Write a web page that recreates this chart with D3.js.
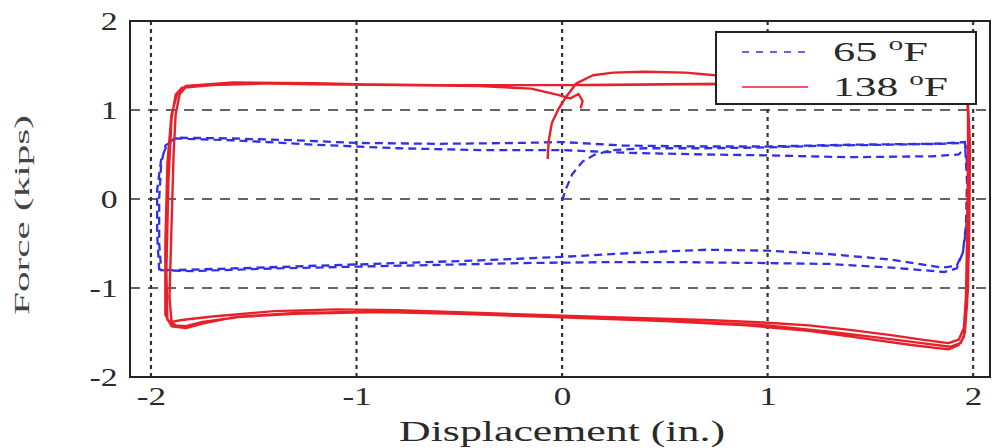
<!DOCTYPE html>
<html><head><meta charset="utf-8">
<script src="https://cdn.jsdelivr.net/npm/d3@7"></script>
<style>
body{margin:0;background:#fff}
text{font-family:"Liberation Serif","Times New Roman",serif;fill:#2a2a2a}
</style>
</head><body>
<svg id="c" width="992" height="448"></svg>
<script>
// ---- data ----
const xTicks = [-2, -1, 0, 1, 2];
const yTicks = [-2, -1, 0, 1, 2];
const xGrid = [-2, -1, 0, 1, 2];
const yGrid = [-1, 0, 1];
const xDomain = [-2.102, 2.082];
const yDomain = [-2, 2];
const xTitle = "Displacement (in.)";
const yTitle = "Force (kips)";
const seriesNames = ["65", "138"];

// 65 °F test (blue dashed): [displacement, force]
const blue65 = [
[0,-0.02],[0.02,0.12],[0.05,0.28],[0.1,0.42],[0.16,0.5],[0.25,0.55],[0.4,0.57],[0.7,0.57],[1.0,0.58],[1.3,0.6],[1.6,0.61],[1.85,0.62],[1.96,0.63],
[1.975,0.3],[1.975,-0.1],[1.965,-0.35],[1.95,-0.6],[1.92,-0.75],[1.85,-0.77],[1.6,-0.68],[1.3,-0.62],[1.0,-0.58],[0.7,-0.57],[0.4,-0.6],[0,-0.65],[-0.4,-0.69],[-0.8,-0.72],[-1.2,-0.75],[-1.6,-0.78],[-1.9,-0.8],[-1.96,-0.79],
[-1.97,-0.4],[-1.97,0.1],[-1.95,0.45],[-1.92,0.62],[-1.88,0.69],[-1.6,0.68],[-1.3,0.66],[-1.0,0.63],[-0.6,0.62],[-0.2,0.63],[0,0.64],[0.3,0.6],[0.7,0.59],[1.0,0.59],[1.4,0.61],[1.8,0.62],[1.96,0.64],
[1.97,0.2],[1.965,-0.3],[1.95,-0.6],[1.92,-0.78],[1.86,-0.82],[1.6,-0.77],[1.3,-0.73],[1.0,-0.72],[0.6,-0.71],[0.2,-0.71],[-0.2,-0.72],[-0.6,-0.74],[-1.0,-0.76],[-1.4,-0.78],[-1.8,-0.81],[-1.95,-0.8],
[-1.96,-0.5],[-1.96,0.0],[-1.95,0.4],[-1.93,0.6],[-1.88,0.68],[-1.6,0.66],[-1.2,0.61],[-0.8,0.57],[-0.4,0.55],[0,0.55],[0.3,0.52],[0.7,0.5],[1.0,0.49],[1.4,0.47],[1.8,0.48],[1.93,0.5],[1.97,0.6]
];

// 138 °F test (red solid): [displacement, force]
const red138 = [
[-0.07,0.45],[-0.065,0.65],[-0.05,0.85],[-0.02,1.0],[0.02,1.15],[0.07,1.3],[0.15,1.39],[0.25,1.42],[0.4,1.43],[0.6,1.42],[0.8,1.38],[1.0,1.34],[1.3,1.32],[1.6,1.31],[1.85,1.31],[1.96,1.33],
[1.975,1.0],[1.975,0.3],[1.97,-0.5],[1.965,-1.1],[1.955,-1.45],[1.93,-1.58],[1.88,-1.62],[1.75,-1.58],[1.6,-1.53],[1.4,-1.47],[1.2,-1.42],[1.0,-1.39],[0.7,-1.36],[0.4,-1.34],[0,-1.31],[-0.4,-1.28],[-0.8,-1.25],[-1.1,-1.24],[-1.4,-1.26],[-1.7,-1.32],[-1.85,-1.36],[-1.9,-1.38],
[-1.91,-1.1],[-1.9,-0.3],[-1.89,0.5],[-1.88,0.95],[-1.86,1.18],[-1.83,1.26],[-1.7,1.29],[-1.5,1.30],[-1.2,1.29],[-0.8,1.28],[-0.4,1.28],[0,1.28],[0.5,1.29],[1.0,1.30],[1.5,1.30],[1.8,1.30],[1.965,1.31],
[1.98,0.8],[1.98,-0.2],[1.975,-1.0],[1.96,-1.5],[1.94,-1.62],[1.89,-1.66],[1.75,-1.62],[1.55,-1.56],[1.3,-1.49],[1.0,-1.42],[0.6,-1.38],[0.2,-1.34],[-0.2,-1.31],[-0.6,-1.28],[-1.0,-1.27],[-1.3,-1.28],[-1.55,-1.32],[-1.75,-1.38],[-1.83,-1.43],[-1.88,-1.42],[-1.92,-1.36],
[-1.925,-0.8],[-1.915,0.2],[-1.9,0.9],[-1.88,1.17],[-1.85,1.25],[-1.7,1.28],[-1.4,1.30],[-1.0,1.29],[-0.6,1.28],[-0.2,1.28],[0.2,1.28],[0.6,1.29],[1.0,1.29],[1.4,1.30],[1.8,1.30],[1.97,1.30],
[1.985,0.6],[1.98,-0.5],[1.97,-1.2],[1.955,-1.55],[1.93,-1.64],[1.88,-1.69],[1.7,-1.64],[1.45,-1.56],[1.2,-1.48],[0.9,-1.42],[0.5,-1.37],[0,-1.33],[-0.5,-1.29],[-0.9,-1.27],[-1.3,-1.29],[-1.6,-1.33],[-1.75,-1.40],[-1.83,-1.45],[-1.9,-1.43],[-1.93,-1.3],
[-1.93,-0.5],[-1.92,0.4],[-1.9,0.95],[-1.87,1.2],[-1.83,1.27],[-1.6,1.31],[-1.2,1.30],[-0.8,1.28],[-0.4,1.27],[-0.15,1.24],[-0.02,1.17],[0.04,1.13],[0.08,1.18],[0.1,1.1],[0.09,1.02]
];

// ---- drawing ----
const W = 992, H = 448;
const m = {left:130, right:2, top:21, bottom:71};
const svg = d3.select("#c");
const x = d3.scaleLinear().domain(xDomain).range([m.left, W - m.right]);
const y = d3.scaleLinear().domain(yDomain).range([H - m.bottom, m.top]);

svg.append("defs").append("clipPath").attr("id","clip")
  .append("rect").attr("x", m.left).attr("y", m.top)
  .attr("width", W - m.right - m.left).attr("height", H - m.bottom - m.top);

// grid
const g = svg.append("g");
g.selectAll(".vg").data(xGrid).join("line")
  .attr("x1", d => x(d)).attr("x2", d => x(d))
  .attr("y1", m.top).attr("y2", H - m.bottom)
  .attr("stroke", "#333").attr("stroke-width", 2.2).attr("stroke-dasharray", "4,4");
g.selectAll(".hg").data(yGrid).join("line")
  .attr("x1", m.left).attr("x2", W - m.right)
  .attr("y1", d => y(d)).attr("y2", d => y(d))
  .attr("stroke", "#333").attr("stroke-width", 1.5).attr("stroke-dasharray", "10,8");

const line = d3.line().x(d => x(d[0])).y(d => y(d[1]));
const plot = svg.append("g").attr("clip-path", "url(#clip)");
plot.append("path").datum(blue65).attr("d", line)
  .attr("fill", "none").attr("stroke", "#3030e6").attr("stroke-width", 2.3)
  .attr("stroke-dasharray", "8,5");
plot.append("path").datum(red138).attr("d", line)
  .attr("fill", "none").attr("stroke", "#e8202a").attr("stroke-width", 2.4)
  .attr("stroke-linejoin", "round");

// axes
const xAxis = svg.append("g").attr("transform", `translate(0,${H - m.bottom})`)
  .call(d3.axisBottom(x).tickValues(xTicks).tickFormat(d3.format("d")).tickSize(0).tickPadding(10));
const yAxis = svg.append("g").attr("transform", `translate(${m.left},0)`)
  .call(d3.axisLeft(y).tickValues(yTicks).tickFormat(d3.format("d")).tickSize(0).tickPadding(12));
[xAxis, yAxis].forEach(a => {
  a.select(".domain").remove();
  a.selectAll("text").attr("font-size", 26).attr("font-family", '"Liberation Serif", serif').attr("fill", "#2a2a2a");
});
xAxis.selectAll("text").text(d => d < 0 ? "-" + Math.abs(d) : d)
  .attr("transform", "scale(1.35,1)");
yAxis.selectAll("text").text(d => d < 0 ? "-" + Math.abs(d) : d)
  .attr("transform", "scale(1.3,1)").attr("x", -9.5);

// frame
svg.append("rect").attr("x", m.left).attr("y", m.top)
  .attr("width", W - m.right - m.left).attr("height", H - m.bottom - m.top)
  .attr("fill", "none").attr("stroke", "#222").attr("stroke-width", 2);

// titles
svg.append("text").attr("x", x(0)).attr("y", 441).attr("text-anchor", "middle")
  .attr("font-size", 29).attr("textLength", 326).attr("lengthAdjust", "spacingAndGlyphs")
  .text(xTitle);
svg.append("text").attr("transform", "translate(29,215) rotate(-90)")
  .attr("text-anchor", "middle").attr("font-size", 21).style("fill", "#444")
  .attr("textLength", 200).attr("lengthAdjust", "spacingAndGlyphs").text(yTitle);

// legend
const lg = svg.append("g");
lg.append("rect").attr("x", 716).attr("y", 32).attr("width", 260).attr("height", 72)
  .attr("fill", "#fff").attr("stroke", "#222").attr("stroke-width", 2);
const items = [{name: seriesNames[0], color: "#3030e6", dash: "7,7", y: 52, w: 95},
               {name: seriesNames[1], color: "#e8202a", dash: null, y: 87, w: 115}];
items.forEach(it => {
  lg.append("line").attr("x1", 742).attr("x2", 808).attr("y1", it.y).attr("y2", it.y)
    .attr("stroke", it.color).attr("stroke-width", 1.5).attr("stroke-dasharray", it.dash);
  const t = lg.append("text").attr("x", 833).attr("y", it.y + 9).attr("font-size", 27)
    .attr("textLength", it.w).attr("lengthAdjust", "spacingAndGlyphs");
  t.append("tspan").text(it.name + " ");
  t.append("tspan").attr("dy", -11).attr("font-size", 18).text("o");
  t.append("tspan").attr("dy", 11).text("F");
});
</script>
</body></html>
